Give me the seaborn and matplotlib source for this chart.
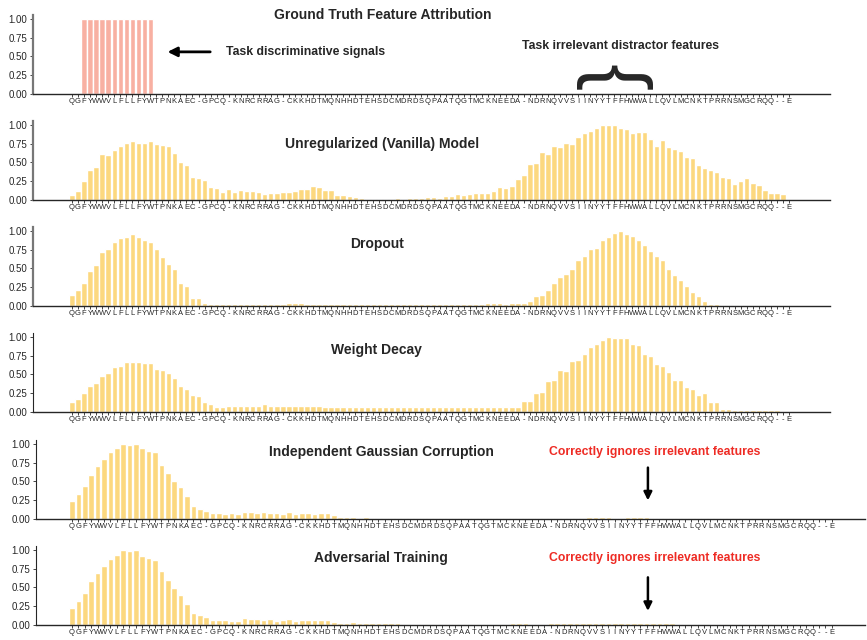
import numpy as np
import pandas as pd
import matplotlib
matplotlib.use('Agg')
import matplotlib.pyplot as plt
import seaborn as sns

# sequence shown along every x axis
sequence = "QGFYWWVLFLLFYWTPNKAEC-GPCQ-KNRCRRAG-CKKHDTMQNHHDTEHSDCMDRDSQPAATQGTMCKNEEDA-NDRNQVVSIINYYTFFHWWALLQVLMCNKTPRRNSMGCRQQ--E"
labels = list(sequence)

ground_truth = [0, 0, 1, 1, 1, 1, 1, 1, 1, 1,
                1, 1, 1, 1, 0, 0, 0, 0, 0, 0,
                0, 0, 0, 0, 0, 0, 0, 0, 0, 0,
                0, 0, 0, 0, 0, 0, 0, 0, 0, 0,
                0, 0, 0, 0, 0, 0, 0, 0, 0, 0,
                0, 0, 0, 0, 0, 0, 0, 0, 0, 0,
                0, 0, 0, 0, 0, 0, 0, 0, 0, 0,
                0, 0, 0, 0, 0, 0, 0, 0, 0, 0,
                0, 0, 0, 0, 0, 0, 0, 0, 0, 0,
                0, 0, 0, 0, 0, 0, 0, 0, 0, 0,
                0, 0, 0, 0, 0, 0, 0, 0, 0, 0,
                0, 0, 0, 0, 0, 0, 0, 0, 0, 0]

vanilla = [0.07, 0.12, 0.25, 0.40, 0.44, 0.61, 0.60, 0.67, 0.72, 0.76,
           0.79, 0.76, 0.76, 0.79, 0.75, 0.73, 0.72, 0.63, 0.51, 0.47,
           0.31, 0.29, 0.27, 0.17, 0.16, 0.11, 0.15, 0.11, 0.13, 0.12,
           0.12, 0.11, 0.08, 0.09, 0.09, 0.11, 0.11, 0.12, 0.15, 0.15,
           0.19, 0.17, 0.13, 0.13, 0.07, 0.07, 0.05, 0.04, 0.03, 0.01,
           0.01, 0.01, 0.01, 0.01, 0.03, 0.01, 0.03, 0.03, 0.03, 0.04,
           0.04, 0.03, 0.05, 0.05, 0.08, 0.07, 0.08, 0.09, 0.09, 0.09,
           0.12, 0.17, 0.16, 0.19, 0.28, 0.33, 0.48, 0.49, 0.64, 0.61,
           0.72, 0.71, 0.76, 0.75, 0.84, 0.89, 0.92, 0.96, 1.00, 1.00,
           1.00, 0.96, 0.95, 0.89, 0.91, 0.91, 0.81, 0.72, 0.80, 0.71,
           0.68, 0.65, 0.57, 0.56, 0.47, 0.43, 0.40, 0.37, 0.31, 0.29,
           0.21, 0.25, 0.29, 0.23, 0.20, 0.13, 0.09, 0.09, 0.08, 0.00]

dropout = [0.15, 0.21, 0.30, 0.46, 0.54, 0.72, 0.76, 0.85, 0.91, 0.92,
           0.96, 0.92, 0.88, 0.85, 0.76, 0.65, 0.56, 0.49, 0.30, 0.26,
           0.11, 0.11, 0.04, 0.03, 0.03, 0.03, 0.03, 0.03, 0.03, 0.03,
           0.03, 0.03, 0.03, 0.03, 0.03, 0.03, 0.035, 0.035, 0.035, 0.02,
           0.02, 0.02, 0.02, 0.02, 0.02, 0.02, 0.02, 0.02, 0.02, 0.02,
           0.02, 0.02, 0.02, 0.02, 0.02, 0.02, 0.02, 0.02, 0.02, 0.02,
           0.03, 0.02, 0.03, 0.03, 0.03, 0.03, 0.03, 0.03, 0.03, 0.045,
           0.045, 0.045, 0.03, 0.045, 0.045, 0.045, 0.06, 0.13, 0.15, 0.21,
           0.30, 0.38, 0.42, 0.49, 0.61, 0.66, 0.76, 0.77, 0.88, 0.92,
           0.97, 1.00, 0.96, 0.93, 0.88, 0.81, 0.73, 0.66, 0.61, 0.49,
           0.41, 0.34, 0.27, 0.19, 0.13, 0.07, 0.03, 0.02, 0.01, 0.01,
           0.01, 0.01, 0.00, 0.00, 0.00, 0.00, 0.00, 0.00, 0.00, 0.00]

weight_decay = [0.13, 0.17, 0.25, 0.35, 0.39, 0.48, 0.52, 0.60, 0.61, 0.66,
                0.66, 0.66, 0.65, 0.65, 0.57, 0.56, 0.52, 0.45, 0.34, 0.31,
                0.23, 0.21, 0.13, 0.11, 0.07, 0.07, 0.085, 0.085, 0.085, 0.085,
                0.085, 0.085, 0.10, 0.085, 0.085, 0.085, 0.085, 0.085, 0.085, 0.085,
                0.085, 0.085, 0.07, 0.07, 0.07, 0.06, 0.06, 0.06, 0.06, 0.06,
                0.06, 0.06, 0.06, 0.06, 0.06, 0.06, 0.06, 0.06, 0.06, 0.06,
                0.06, 0.06, 0.06, 0.06, 0.06, 0.06, 0.06, 0.07, 0.07, 0.07,
                0.07, 0.07, 0.07, 0.07, 0.07, 0.15, 0.15, 0.25, 0.26, 0.41,
                0.42, 0.56, 0.54, 0.68, 0.69, 0.77, 0.87, 0.91, 0.96, 1.00,
                0.99, 0.99, 0.99, 0.91, 0.89, 0.77, 0.74, 0.64, 0.61, 0.53,
                0.42, 0.43, 0.33, 0.31, 0.22, 0.25, 0.13, 0.13, 0.045, 0.045,
                0.03, 0.03, 0.03, 0.03, 0.03, 0.02, 0.02, 0.02, 0.01, 0.00]

gaussian = [0.24, 0.33, 0.44, 0.59, 0.70, 0.80, 0.89, 0.94, 1.00, 0.99,
            1.00, 0.95, 0.90, 0.89, 0.72, 0.61, 0.50, 0.42, 0.31, 0.17,
            0.13, 0.10, 0.08, 0.08, 0.06, 0.08, 0.06, 0.09, 0.09, 0.08,
            0.09, 0.08, 0.08, 0.06, 0.09, 0.06, 0.08, 0.08, 0.06, 0.08,
            0.08, 0.05, 0.03, 0.03, 0.03, 0.015, 0.03, 0.015, 0.01, 0.01,
            0.01, 0.01, 0.01, 0.01, 0.01, 0.01, 0.01, 0.01, 0.01, 0.01,
            0.01, 0.01, 0.01, 0.01, 0.01, 0.01, 0.01, 0.01, 0.01, 0.01,
            0.01, 0.01, 0.01, 0.01, 0.01, 0.01, 0.01, 0.01, 0.01, 0.01,
            0.01, 0.025, 0.025, 0.025, 0.025, 0.015, 0.015, 0.025, 0.025, 0.025,
            0.025, 0.015, 0.015, 0.015, 0.015, 0.015, 0.015, 0.015, 0.015, 0.015,
            0.015, 0.01, 0.01, 0.01, 0.01, 0.01, 0.01, 0.00, 0.00, 0.00,
            0.00, 0.00, 0.00, 0.00, 0.00, 0.00, 0.00, 0.00, 0.00, 0.00]

adversarial = [0.23, 0.32, 0.42, 0.59, 0.69, 0.78, 0.88, 0.93, 1.00, 0.98,
               1.00, 0.92, 0.89, 0.87, 0.72, 0.60, 0.49, 0.40, 0.28, 0.16,
               0.13, 0.11, 0.07, 0.07, 0.07, 0.055, 0.055, 0.09, 0.08, 0.08,
               0.07, 0.08, 0.055, 0.07, 0.08, 0.055, 0.07, 0.07, 0.07, 0.07,
               0.07, 0.04, 0.03, 0.03, 0.04, 0.03, 0.02, 0.02, 0.03, 0.02,
               0.03, 0.02, 0.012, 0.012, 0.012, 0.012, 0.012, 0.012, 0.012, 0.012,
               0.012, 0.012, 0.012, 0.012, 0.012, 0.012, 0.012, 0.012, 0.012, 0.025,
               0.025, 0.025, 0.012, 0.012, 0.012, 0.025, 0.025, 0.025, 0.025, 0.025,
               0.025, 0.025, 0.025, 0.025, 0.025, 0.025, 0.025, 0.025, 0.025, 0.025,
               0.025, 0.025, 0.025, 0.025, 0.025, 0.012, 0.012, 0.012, 0.012, 0.012,
               0.012, 0.012, 0.012, 0.012, 0.012, 0.012, 0.012, 0.012, 0.012, 0.012,
               0.012, 0.012, 0.012, 0.012, 0.00, 0.00, 0.00, 0.00, 0.00, 0.00]

titles = ['Ground Truth Feature Attribution', 'Unregularized (Vanilla) Model', 'Dropout',
          'Weight Decay', 'Independent Gaussian Corruption', 'Adversarial Training']
series = [ground_truth, vanilla, dropout, weight_decay, gaussian, adversarial]

sns.set_style('ticks')
plt.rcParams['font.family'] = ['Liberation Sans', 'DejaVu Sans']

fig = plt.figure(figsize=(8.67, 6.40), dpi=100)

W, H = 867.0, 640.0
bottoms_px = [94, 200, 306, 412, 519, 625]
title_pos = [(51.5, 1.05), (51.5, 0.75), (50.6, 0.83), (50.6, 0.83), (48.5, 0.89), (48.4, 0.89)]

axes = []
for i, vals in enumerate(series):
    if i < 4:
        left_px, right_px, xlim = 33, 830, (-6.47, 125.8)
    else:
        left_px, right_px, xlim = 36, 865, (-5.64, 124.2)
    ax = fig.add_axes([left_px / W, 1 - bottoms_px[i] / H, (right_px - left_px) / W, 79 / H])
    color = '#f8b0a2' if i == 0 else '#fcd87f'
    sns.barplot(x=list(range(len(vals))), y=vals, color=color, saturation=1,
                width=0.88, ax=ax)
    ax.set_xticks(range(len(labels)))
    ax.set_xticklabels(labels)
    ax.set_xlim(*xlim)
    ax.set_ylim(0, 1.05)
    ax.set_yticks([0, 0.25, 0.5, 0.75, 1.0])
    ax.set_yticklabels(['0.00', '0.25', '0.50', '0.75', '1.00'])
    ax.set_xlabel('')
    ax.set_ylabel('')
    ax.tick_params(axis='x', length=2, width=0.6, labelsize=5.5, pad=1)
    ax.tick_params(axis='y', length=2.5, width=0.6, labelsize=7, pad=1.5)
    sns.despine(ax=ax)
    if i < 3:
        ax.spines['left'].set_color('#777777')
        ax.spines['left'].set_linewidth(1.6)
    ax.spines['bottom'].set_linewidth(1.0)
    ax.text(title_pos[i][0], title_pos[i][1], titles[i], ha='center', va='center',
            fontsize=10, fontweight='bold')
    axes.append(ax)

# annotations on the ground truth panel
ax0 = axes[0]
ax0.annotate('', xy=(15.4, 0.56), xytext=(23.4, 0.56),
             arrowprops=dict(arrowstyle='-|>', color='black', lw=2, mutation_scale=14))
ax0.text(25.6, 0.56, 'Task discriminative signals', ha='left', va='center',
         fontsize=8.8, fontweight='bold')
ax0.text(91.1, 0.64, 'Task irrelevant distractor features', ha='center', va='center',
         fontsize=8.8, fontweight='bold')
ax0.text(90.1, 0.25, '}', rotation=90, ha='center', va='center',
         fontsize=58, fontweight='normal')

# annotations on the last two panels
for ax, (y_text, y_tail, y_head) in zip(axes[4:], [(0.89, 0.72, 0.21), (0.89, 0.67, 0.15)]):
    ax.text(91.2, y_text, 'Correctly ignores irrelevant features', ha='center', va='center',
            fontsize=8.8, fontweight='bold', color='#ee2b24')
    ax.annotate('', xy=(90.2, y_head), xytext=(90.2, y_tail),
                arrowprops=dict(arrowstyle='-|>', color='black', lw=1.8, mutation_scale=12))

fig.savefig('out.png', dpi=100)
